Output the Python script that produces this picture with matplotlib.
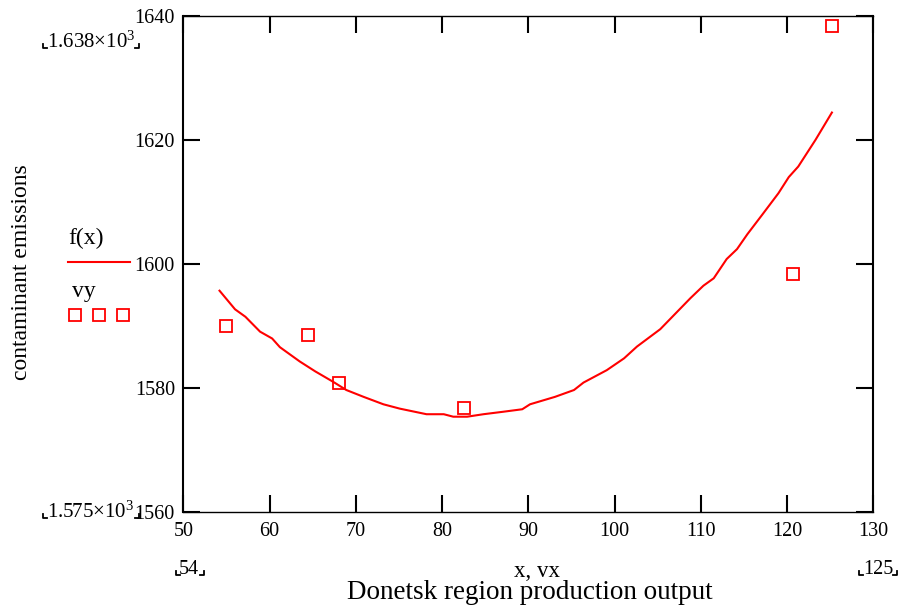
import matplotlib
matplotlib.use("Agg")
import matplotlib.pyplot as plt
from matplotlib.lines import Line2D

plt.rcParams['font.family'] = ['Liberation Serif', 'DejaVu Serif']
plt.rcParams['mathtext.fontset'] = 'custom'
plt.rcParams['mathtext.rm'] = 'Liberation Serif'

# fitted curve f(x)
fx = [54.2, 56.0, 57.2, 58.9, 60.3, 61.2, 63.5, 65.3, 67.4, 68.9, 70.9, 73.2,
      75.1, 78.2, 80.2, 81.3, 82.9, 84.8, 87.1, 89.3, 90.2, 93.1, 95.3, 96.4,
      99.1, 101.1, 102.6, 105.3, 108.8, 110.3, 111.5, 113.0, 114.2, 115.4,
      117.1, 119.0, 120.2, 121.3, 123.3, 125.2]
fy = [1595.7, 1592.7, 1591.5, 1589.1, 1588.0, 1586.6, 1584.3, 1582.7, 1581.0,
      1579.7, 1578.6, 1577.4, 1576.7, 1575.8, 1575.8, 1575.4, 1575.4, 1575.8,
      1576.2, 1576.6, 1577.4, 1578.6, 1579.7, 1580.9, 1582.9, 1584.8, 1586.7,
      1589.5, 1594.5, 1596.5, 1597.7, 1600.8, 1602.4, 1604.8, 1607.9, 1611.4,
      1614.0, 1615.7, 1620.0, 1624.4]

# observed data
vx = [54.9, 64.4, 68.05, 82.5, 120.7, 125.2]
vy = [1590.0, 1588.6, 1580.8, 1576.8, 1598.4, 1638.3]

xticks = [50, 60, 70, 80, 90, 100, 110, 120, 130]
yticks = [1560, 1580, 1600, 1620, 1640]

W, H = 901, 605
fig = plt.figure(figsize=(W / 100, H / 100), dpi=100)
L, R, T, B = 183.3, 873.3, 15.7, 512.3
ax = fig.add_axes([L / W, 1 - B / H, (R - L) / W, (B - T) / H])

red = '#ff0000'
ax.plot(fx, fy, color=red, lw=1.5)
ax.plot(vx, vy, linestyle='none', marker='s', markersize=9,
        markerfacecolor='none', markeredgecolor=red, markeredgewidth=1.3)

ax.set_xlim(50, 130)
ax.set_ylim(1560, 1640)
ax.set_xticks(xticks)
ax.set_yticks(yticks)
ax.tick_params(direction='in', length=12, width=1.5, top=True, right=True,
               labelsize=14.5, colors='black')
ax.tick_params(axis='x', pad=7)
ax.tick_params(axis='y', pad=6)
for s in ['left', 'right']:
    ax.spines[s].set_linewidth(1.5)
for s in ['top', 'bottom']:
    ax.spines[s].set_linewidth(1.0)


def P(x, y):
    return x / W, 1 - y / H


def bracket(x, y, side):
    # small Mathcad-style corner mark, (x, y) = corner pixel
    d = 4
    if side == 'l':
        xs = [x, x, x + d]
    else:
        xs = [x, x, x - d]
    ys = [y - d, y, y]
    fig.add_artist(Line2D([xx / W for xx in xs], [1 - yy / H for yy in ys],
                          transform=fig.transFigure, color='black', lw=1.3))


fs = 15
# limit labels
fig.text(*P(47, 48), r'$\mathrm{1.638{\times}10^{3}}$', fontsize=fs,
         ha='left', va='baseline')
bracket(43, 48, 'l'); bracket(139, 48, 'r')
fig.text(*P(47, 518), r'$\mathrm{1.575{\times}10^{3}}$', fontsize=fs,
         ha='left', va='baseline')
bracket(43, 518, 'l'); bracket(139, 518, 'r')
fig.text(*P(189, 574), '54', fontsize=14.5, ha='center', va='baseline')
bracket(176, 575, 'l'); bracket(204, 575, 'r')
fig.text(*P(878, 574), '125', fontsize=14.5, ha='center', va='baseline')
bracket(859, 575, 'l'); bracket(897, 575, 'r')

# axis labels
fig.text(*P(537, 577), 'x, vx', fontsize=16.5, ha='center', va='baseline')
fig.text(*P(530, 599), 'Donetsk region production output', fontsize=19.5,
         ha='center', va='baseline')
fig.text(*P(22, 272), 'contaminant emissions', fontsize=17, rotation=90,
         ha='center', va='center')

# legend
fig.text(*P(68, 244), 'f(x)', fontsize=17, ha='left', va='baseline')
fig.add_artist(Line2D([68 / W, 130 / W], [1 - 262 / H, 1 - 262 / H],
                      transform=fig.transFigure, color=red, lw=1.5))
fig.text(*P(72, 297), 'vy', fontsize=17, ha='left', va='baseline')
for xx in [75, 99, 123]:
    fig.add_artist(Line2D([xx / W], [1 - 315 / H], transform=fig.transFigure,
                          linestyle='none', marker='s', markersize=9,
                          markerfacecolor='none', markeredgecolor=red,
                          markeredgewidth=1.3))

fig.savefig('out.png', dpi=100)
